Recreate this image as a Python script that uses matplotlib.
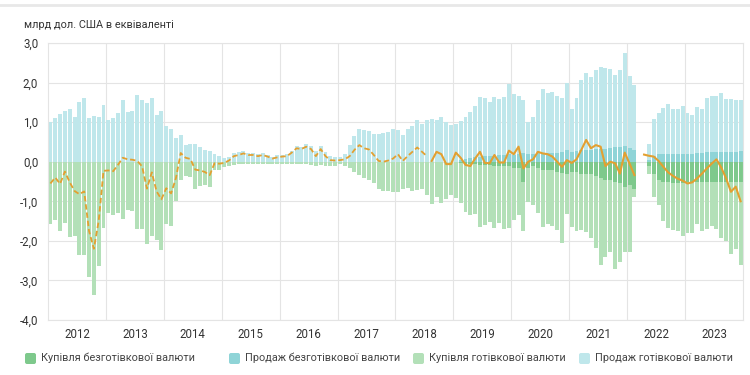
import numpy as np
import matplotlib.pyplot as plt
from matplotlib.patches import FancyBboxPatch
from matplotlib.transforms import IdentityTransform
from matplotlib.lines import Line2D

nan = np.nan
years = list(range(2012, 2024))

# bn USD, monthly Jan 2012 - Dec 2023
cash_sales = [
    1.01, 1.10, 1.20, 1.28, 1.34, 1.12, 1.52, 1.60, 1.10, 1.16, 1.12, 1.43,
    1.05, 1.10, 1.22, 1.56, 1.25, 1.27, 1.68, 1.57, 1.48, 1.60, 1.19, 1.28,
    0.89, 0.82, 0.59, 0.68, 0.42, 0.44, 0.46, 0.38, 0.30, 0.28, 0.19, 0.14,
    0.10, 0.13, 0.22, 0.24, 0.27, 0.22, 0.22, 0.20, 0.23, 0.18, 0.13, 0.16,
    0.18, 0.19, 0.28, 0.40, 0.38, 0.45, 0.40, 0.26, 0.40, 0.24, 0.15, 0.13,
    0.13, 0.19, 0.42, 0.65, 0.82, 0.80, 0.78, 0.70, 0.70, 0.72, 0.76, 0.83,
    0.80, 0.68, 0.82, 0.89, 1.05, 0.95, 1.05, 1.07, 1.05, 1.12, 1.01, 0.93,
    0.95, 0.97, 1.04, 1.16, 1.28, 1.51, 1.48, 1.37, 1.49, 1.42, 1.47, 1.77,
    1.53, 1.46, 1.34, 0.81, 0.94, 1.34, 1.61, 1.51, 1.54, 1.42, 1.35, 1.68,
    1.09, 1.33, 1.76, 1.93, 1.83, 2.01, 2.06, 2.04, 2.00, 1.80, 1.93, 2.35,
    1.81, 1.63, nan, nan, 0.40, 0.92, 1.02, 1.16, 1.25, 1.12, 1.14, 1.20,
    1.02, 0.99, 1.17, 1.10, 1.36, 1.41, 1.41, 1.49, 1.33, 1.33, 1.32, 1.27,
]
noncash_sales = [0.0] * 84 + [
    0.00, 0.05, 0.08, 0.10, 0.12, 0.13, 0.14, 0.15, 0.15, 0.16, 0.17, 0.20,
    0.18, 0.20, 0.22, 0.20, 0.20, 0.22, 0.22, 0.22, 0.23, 0.23, 0.25, 0.30,
    0.25, 0.27, 0.30, 0.30, 0.30, 0.32, 0.33, 0.33, 0.35, 0.38, 0.38, 0.40,
    0.35, 0.30, nan, nan, 0.05, 0.15, 0.20, 0.20, 0.20, 0.20, 0.20, 0.20,
    0.20, 0.20, 0.22, 0.22, 0.25, 0.25, 0.25, 0.25, 0.25, 0.25, 0.25, 0.28,
]
cash_buy = [
    -1.58, -1.47, -1.76, -1.56, -1.90, -1.88, -2.36, -2.36, -2.92, -3.36, -2.64, -1.67,
    -1.29, -1.35, -1.29, -1.46, -1.21, -1.25, -1.69, -1.71, -2.09, -1.87, -1.99, -2.24,
    -1.57, -1.63, -1.00, -0.46, -0.37, -0.38, -0.70, -0.62, -0.58, -0.63, -0.22, -0.20,
    -0.13, -0.10, -0.08, -0.07, -0.06, -0.05, -0.05, -0.06, -0.06, -0.05, -0.05, -0.05,
    -0.05, -0.05, -0.05, -0.06, -0.06, -0.07, -0.08, -0.12, -0.08, -0.10, -0.11, -0.10,
    -0.07, -0.11, -0.17, -0.25, -0.33, -0.40, -0.47, -0.55, -0.68, -0.73, -0.74, -0.77,
    -0.76, -0.70, -0.66, -0.73, -0.72, -0.70, -0.85, -1.08, -0.90, -1.04, -0.93, -0.85,
    -0.92, -1.03, -1.22, -1.29, -1.25, -1.56, -1.52, -1.43, -1.58, -1.45, -1.58, -1.56,
    -1.32, -1.20, -1.26, -0.86, -0.97, -1.15, -1.44, -1.37, -1.40, -1.47, -1.78, -1.02,
    -1.39, -1.50, -1.42, -1.47, -1.61, -1.83, -2.20, -1.95, -1.82, -2.20, -1.98, -1.62,
    -1.67, -0.20, nan, nan, -0.20, -0.58, -0.64, -0.99, -1.18, -1.17, -1.21, -1.32,
    -1.30, -1.30, -1.07, -1.26, -1.20, -1.12, -1.20, -1.43, -1.50, -1.83, -1.71, -2.10,
]
noncash_buy = [0.0] * 84 + [
    0.00, -0.02, -0.05, -0.06, -0.07, -0.08, -0.08, -0.09, -0.10, -0.10, -0.12, -0.12,
    -0.15, -0.15, -0.50, -0.15, -0.12, -0.15, -0.20, -0.20, -0.22, -0.25, -0.28, -0.30,
    -0.25, -0.25, -0.30, -0.30, -0.32, -0.35, -0.40, -0.45, -0.45, -0.50, -0.55, -0.65,
    -0.60, -0.70, nan, nan, -0.10, -0.30, -0.45, -0.50, -0.50, -0.55, -0.55, -0.55,
    -0.50, -0.50, -0.50, -0.50, -0.50, -0.50, -0.50, -0.50, -0.50, -0.50, -0.50, -0.50,
]
# net sales line: dashed Jan 2012 - Jul 2018, solid Aug 2018 - Dec 2023
net_old = [
    -0.55, -0.40, -0.56, -0.25, -0.52, -0.74, -0.82, -0.75, -1.75, -2.20, -1.50, -0.23,
    -0.22, -0.24, -0.08, 0.10, 0.06, 0.05, 0.02, -0.12, -0.68, -0.27, -0.75, -0.95,
    -0.67, -0.80, -0.42, 0.22, 0.10, 0.07, -0.20, -0.22, -0.26, -0.34, -0.04, -0.05,
    -0.03, 0.03, 0.14, 0.17, 0.21, 0.17, 0.17, 0.14, 0.17, 0.13, 0.08, 0.11,
    0.13, 0.14, 0.23, 0.34, 0.32, 0.38, 0.32, 0.14, 0.32, 0.14, 0.04, 0.03,
    0.04, 0.06, 0.14, 0.30, 0.42, 0.34, 0.31, 0.17, 0.02, 0.00, 0.03, 0.08,
    0.19, 0.02, 0.14, 0.25, 0.36, 0.25, 0.14,
]
net_new = [
    0.02, 0.25, 0.19, -0.06, -0.06,
    0.23, 0.10, -0.08, -0.11, 0.08, 0.25, -0.03, -0.04, 0.17, -0.02, -0.02, 0.28,
    0.19, 0.38, -0.17, 0.00, 0.06, 0.25, 0.21, 0.19, 0.13, 0.00, -0.13, 0.04,
    -0.03, 0.06, 0.30, 0.55, 0.34, 0.42, 0.38, -0.11, 0.00, -0.04, -0.30, 0.23,
    -0.05, -0.34, nan, 0.18, 0.15, 0.13, 0.02, -0.13, -0.27, -0.36, -0.43, -0.48,
    -0.55, -0.52, -0.42, -0.30, -0.17, -0.05, 0.06, -0.15, -0.42, -0.76, -0.63, -1.00,
]

labels = ['Купівля безготівкової валюти', 'Продаж безготівкової валюти',
          'Купівля готівкової валюти', 'Продаж готівкової валюти']
colors = ['#7ec98c', '#8fd4d7', '#b3e0b8', '#bfe7eb']
line_color = '#e3a031'

plt.rcParams['font.family'] = ['Roboto', 'DejaVu Sans']

fig = plt.figure(figsize=(7.5, 3.75), dpi=100)
ax = fig.add_axes([48 / 750, 1 - 320 / 375, 695 / 750, 277 / 375])

x = np.arange(len(cash_sales))
w = 0.82
ncs = np.array(noncash_sales)
ncb = np.array(noncash_buy)
ax.bar(x, ncs, width=w, color=colors[1], zorder=2)
ax.bar(x, cash_sales, bottom=np.nan_to_num(ncs), width=w, color=colors[3], zorder=2)
ax.bar(x, ncb, width=w, color=colors[0], zorder=2)
ax.bar(x, cash_buy, bottom=np.nan_to_num(ncb), width=w, color=colors[2], zorder=2)

x_old = x[:len(net_old)]
x_new = x[len(net_old):]
ax.plot(x_old, net_old, color=line_color, lw=1.3, ls=(0, (3, 1.6)), zorder=3)
ax.plot(x_new, net_new, color=line_color, lw=1.5, zorder=3)

ax.set_xlim(-0.5, len(x) - 0.5)
ax.set_ylim(-4, 3)
ax.set_yticks(range(-4, 4))
ax.set_yticklabels([f'{v:.1f}'.replace('.', ',') for v in range(-4, 4)])
ax.set_xticks([12 * i + 5.5 for i in range(len(years))])
ax.set_xticklabels([str(y) for y in years])
ax.set_xticks([12 * i - 0.5 for i in range(1, len(years))], minor=True)
ax.tick_params(axis='both', which='both', length=0, labelsize=8.3, colors='#333333')
ax.tick_params(axis='x', pad=6)
ax.tick_params(axis='y', pad=7)
ax.grid(True, which='major', axis='y', color='#e4e4e4', lw=0.8, zorder=0)
ax.grid(True, which='minor', axis='x', color='#e4e4e4', lw=0.8, zorder=0)
for s in ax.spines.values():
    s.set_color('#e4e4e4')
    s.set_linewidth(0.8)

fig.text(24 / 750, 1 - 25 / 375, 'млрд дол. США в еквіваленті', fontsize=7.8,
         color='#333333', va='center')
fig.add_artist(Line2D([0, 1], [1 - 5 / 375, 1 - 5 / 375], color='#e8e8e8', lw=2))

leg_x = [25, 229, 413, 579]
for lx, lab, col in zip(leg_x, labels, colors):
    fig.add_artist(FancyBboxPatch((lx, 375 - 364), 11, 11,
                                  boxstyle='round,pad=0,rounding_size=2',
                                  transform=IdentityTransform(), color=col, lw=0))
    fig.text((lx + 16) / 750, 1 - 358 / 375, lab, fontsize=7.8, color='#444444',
             va='center')

fig.savefig('out.png', dpi=100)
